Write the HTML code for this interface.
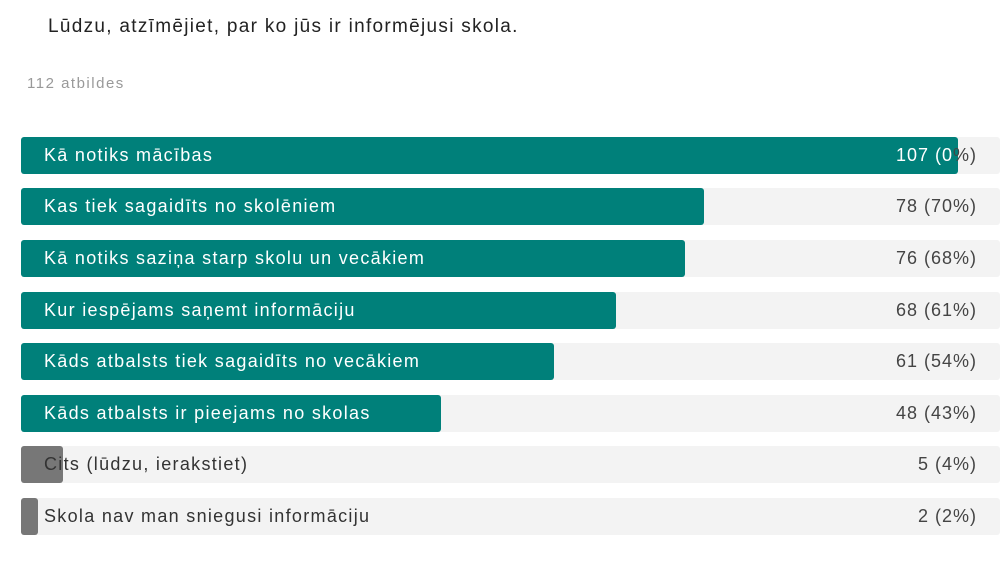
<!DOCTYPE html>
<html><head><meta charset="utf-8"><style>
body{margin:0;width:1006px;height:580px;background:#fff;font-family:"Liberation Sans",sans-serif;position:relative;overflow:hidden}
.t{position:absolute;left:48px;top:16px;font-size:19px;color:#222;letter-spacing:1.3px}
.s{position:absolute;left:27px;top:75px;font-size:15px;color:#999;letter-spacing:1.5px}
.r{position:absolute;left:21px;width:979px;height:37px;background:#f3f3f3;border-radius:3px}
.b{position:absolute;left:0;top:0;height:37px;background:#00807a;border-radius:3px}
.g{background:#777}
.l{position:absolute;left:23px;top:8px;font-size:18px;color:#fff;white-space:nowrap;letter-spacing:1.3px}
.d{color:#333}
.v{position:absolute;right:23px;top:8px;font-size:18px;color:#444;letter-spacing:1px}
</style></head><body>
<div class="t">Lūdzu, atzīmējiet, par ko jūs ir informējusi skola.</div>
<div class="s">112 atbildes</div>
<div class="r" style="top:137px"><div class="b" style="width:937px"></div><div class="l">Kā notiks mācības</div><div class="v"><span style="color:#fff">107 (0</span>%)</div></div>
<div class="r" style="top:188px"><div class="b" style="width:683px"></div><div class="l">Kas tiek sagaidīts no skolēniem</div><div class="v">78 (70%)</div></div>
<div class="r" style="top:240px"><div class="b" style="width:664px"></div><div class="l">Kā notiks saziņa starp skolu un vecākiem</div><div class="v">76 (68%)</div></div>
<div class="r" style="top:292px"><div class="b" style="width:595px"></div><div class="l">Kur iespējams saņemt informāciju</div><div class="v">68 (61%)</div></div>
<div class="r" style="top:343px"><div class="b" style="width:533px"></div><div class="l">Kāds atbalsts tiek sagaidīts no vecākiem</div><div class="v">61 (54%)</div></div>
<div class="r" style="top:395px"><div class="b" style="width:420px"></div><div class="l">Kāds atbalsts ir pieejams no skolas</div><div class="v">48 (43%)</div></div>
<div class="r" style="top:446px"><div class="b g" style="width:42px"></div><div class="l d">Cits (lūdzu, ierakstiet)</div><div class="v">5 (4%)</div></div>
<div class="r" style="top:498px"><div class="b g" style="width:17px"></div><div class="l d">Skola nav man sniegusi informāciju</div><div class="v">2 (2%)</div></div>
</body></html>
